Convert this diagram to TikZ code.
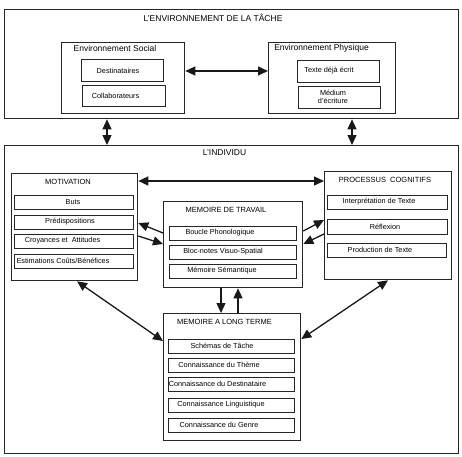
\documentclass[tikz,border=0pt]{standalone}
\usepackage{fontspec}
\setmainfont{Liberation Sans}
\usetikzlibrary{arrows.meta,calc}
\tikzset{
  bx/.style={draw=black!85, line width=1.3pt, inner sep=0pt, anchor=north west},
  ibx/.style={draw=black!85, line width=1.4pt, inner sep=0pt, anchor=north west},
  txt/.style={font=\fontsize{7.3}{8.6}\selectfont, inner sep=0pt, align=center},
  ttl/.style={font=\fontsize{7.5}{9}\selectfont, inner sep=0pt},
  big/.style={font=\fontsize{8.5}{10}\selectfont, inner sep=0pt},
  tip/.tip={Triangle[length=10pt,width=9pt]},
  arr/.style={line width=1.3pt, draw=black!90, -tip},
  darr/.style={line width=1.3pt, draw=black!90, tip-tip},
}
\begin{document}
\begin{tikzpicture}[x=1pt,y=-1pt]
\useasboundingbox (0,0) rectangle (462,456);
% ---- task environment
\node[bx, minimum width=454pt, minimum height=109pt] (env) at (4,9) {};
\node[big] (envT) at (213,18) {L'ENVIRONNEMENT DE LA TÂCHE};
\node[bx, minimum width=123pt, minimum height=71pt] (soc) at (61,42) {};
\node[big] (socT) at (115,48) {Environnement Social};
\node[ibx, minimum width=82pt, minimum height=22pt] (dest) at (81,59) {};
\node[txt] (destT) at (118,71) {Destinataires};
\node[ibx, minimum width=83pt, minimum height=21pt] (coll) at (82,85) {};
\node[txt] (collT) at (115.5,95.5) {Collaborateurs};
\node[bx, minimum width=127pt, minimum height=71pt] (phy) at (268,42) {};
\node[big] (phyT) at (321.5,48) {Environnement Physique};
\node[ibx, minimum width=82pt, minimum height=22pt] (tde) at (297,60) {};
\node[txt] (tdeT) at (329,71) {Texte déjà écrit};
\node[ibx, minimum width=82pt, minimum height=22pt] (med) at (298,86) {};
\node[txt] (medT) at (333,97) {Médium\\d'écriture};
\draw[darr] (soc.east |- 0,71) -- (phy.west |- 0,71);
% ---- individual
\node[bx, minimum width=454pt, minimum height=308pt] (ind) at (4,145) {};
\node[big] (indT) at (224.5,153) {L'INDIVIDU};
\draw[darr] (env.south -| 107,0) -- (ind.north -| 107,0);
\draw[darr] (env.south -| 352,0) -- (ind.north -| 352,0);
% motivation
\node[bx, minimum width=126pt, minimum height=107pt] (mot) at (11,173) {};
\node[ttl] (motT) at (68,182) {MOTIVATION};
\node[ibx, minimum width=119pt, minimum height=14pt] (buts) at (14,195) {};
\node[txt] (butsT) at (73,202) {Buts};
\node[ibx, minimum width=119pt, minimum height=14pt] (pred) at (14,215) {};
\node[txt] (predT) at (70,222) {Prédispositions};
\node[ibx, minimum width=119pt, minimum height=14pt] (croy) at (14,234) {};
\node[txt] (croyT) at (62.5,241) {Croyances et\ \ Attitudes};
\node[ibx, minimum width=119pt, minimum height=14pt] (esti) at (14,254) {};
\node[txt] (estiT) at (63,261) {Estimations Coûts/Bénéfices};
% memoire de travail
\node[bx, minimum width=139pt, minimum height=86pt] (mdt) at (163,201) {};
\node[ttl] (mdtT) at (226,210) {MEMOIRE DE TRAVAIL};
\node[ibx, minimum width=127pt, minimum height=14pt] (bouc) at (169,226) {};
\node[txt] (boucT) at (220,233) {Boucle Phonologique};
\node[ibx, minimum width=127pt, minimum height=14pt] (bloc) at (169,245) {};
\node[txt] (blocT) at (223,252) {Bloc-notes Visuo-Spatial};
\node[ibx, minimum width=127pt, minimum height=14pt] (msem) at (169,264) {};
\node[txt] (msemT) at (222,271) {Mémoire Sémantique};
% processus cognitifs
\node[bx, minimum width=127pt, minimum height=108pt] (pc) at (324,171) {};
\node[ttl] (pcT) at (385,180) {PROCESSUS\ \ COGNITIFS};
\node[ibx, minimum width=120pt, minimum height=14pt] (inter) at (327,195) {};
\node[txt] (interT) at (379,202) {Interprétation de Texte};
\node[ibx, minimum width=120pt, minimum height=15pt] (refl) at (327,219) {};
\node[txt] (reflT) at (385,226.5) {Réflexion};
\node[ibx, minimum width=119pt, minimum height=14pt] (prod) at (327,243) {};
\node[txt] (prodT) at (380,250) {Production de Texte};
% memoire a long terme
\node[bx, minimum width=137pt, minimum height=127pt] (mlt) at (163,313) {};
\node[ttl] (mltT) at (224.5,322) {MEMOIRE A LONG TERME};
\node[ibx, minimum width=126pt, minimum height=14pt] (sch) at (168,339) {};
\node[txt] (schT) at (222,346) {Schémas de Tâche};
\node[ibx, minimum width=126pt, minimum height=14pt] (them) at (168,358) {};
\node[txt] (themT) at (219,365) {Connaissance du Thème};
\node[ibx, minimum width=126pt, minimum height=14pt] (cdes) at (168,377) {};
\node[txt] (cdesT) at (217.5,384) {Connaissance du Destinataire};
\node[ibx, minimum width=126pt, minimum height=14pt] (ling) at (168,398) {};
\node[txt] (lingT) at (221,405) {Connaissance Linguistique};
\node[ibx, minimum width=126pt, minimum height=14pt] (genr) at (168,418) {};
\node[txt] (genrT) at (219,425) {Connaissance du Genre};
% connectors
\draw[darr] (mot.east |- 0,181) -- (pc.west |- 0,181);
\draw[arr] (mdt.west |- 0,233) -- (mot.east |- 0,223);
\draw[arr] (mot.east |- 0,236) -- (mdt.west |- 0,244);
\draw[arr] (mdt.east |- 0,231) -- (pc.west |- 0,220);
\draw[arr] (pc.west |- 0,234) -- (mdt.east |- 0,244);
\draw[arr] (mdt.south -| 221,0) -- (mlt.north -| 221,0);
\draw[arr] (mlt.north -| 238,0) -- (mdt.south -| 238,0);
\draw[darr] (mot.south -| 77,0) -- (mlt.west |- 0,341);
\draw[darr] (pc.south -| 388,0) -- (mlt.east |- 0,339);
\end{tikzpicture}
\end{document}
